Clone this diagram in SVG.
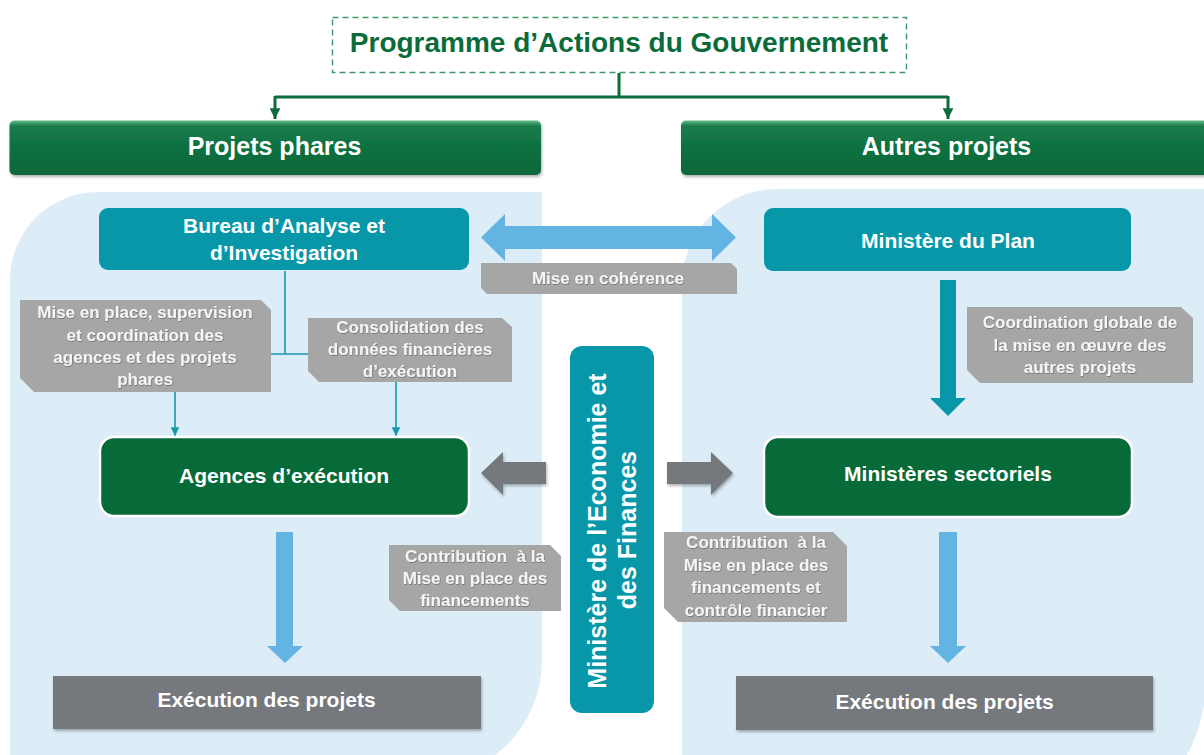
<svg xmlns="http://www.w3.org/2000/svg" width="1204" height="755" viewBox="0 0 1204 755">
  <defs>
    <linearGradient id="hdr" x1="0" y1="0" x2="0" y2="1">
      <stop offset="0" stop-color="#62bd8a"/>
      <stop offset="0.1" stop-color="#1a7d4c"/>
      <stop offset="0.5" stop-color="#0d7040"/>
      <stop offset="1" stop-color="#0a683a"/>
    </linearGradient>
    <filter id="sh" x="-10%" y="-20%" width="125%" height="150%">
      <feDropShadow dx="1" dy="2" stdDeviation="1.5" flood-color="#000" flood-opacity="0.3"/>
    </filter>
    <filter id="tsh" x="-5%" y="-20%" width="110%" height="150%">
      <feDropShadow dx="0.6" dy="0.8" stdDeviation="0.5" flood-color="#000" flood-opacity="0.35"/>
    </filter>
    <marker id="ag" viewBox="0 0 10 10" refX="10" refY="5" markerWidth="3.6" markerHeight="3.6" orient="auto" markerUnits="strokeWidth">
      <path d="M0,0 L10,5 L0,10 Z" fill="#0e6b3b"/>
    </marker>
    <marker id="at" viewBox="0 0 10 10" refX="10" refY="5" markerWidth="5.5" markerHeight="5.5" orient="auto" markerUnits="strokeWidth">
      <path d="M0,0 L10,5 L0,10 Z" fill="#1798ad"/>
    </marker>
  </defs>
  <style>
    text { font-family: "Liberation Sans", Arial, sans-serif; font-weight: bold; }
    .panel { fill: #ddedf8; }
    .hdr { fill: url(#hdr); filter: url(#sh); }
    .hdrt { fill: #ffffff; font-size: 25px; text-anchor: middle; }
    .teal { fill: #0797a8; }
    .dg { fill: #076b39; stroke: #ffffff; stroke-width: 2.5; }
    .ex { fill: #75787b; filter: url(#sh); }
    .nt { fill: #ffffff; font-size: 21px; text-anchor: middle; }
    .lbl { fill: #a6a6a6; }
    .lt { fill: #f5f5f5; font-size: 17px; text-anchor: middle; filter: url(#tsh); }
    .gc { fill: none; stroke: #0e6b3b; stroke-width: 3; }
    .tc { fill: none; stroke: #1798ad; stroke-width: 1.6; }
    .ba { fill: #63b3e3; }
    .ga { fill: #75787b; filter: url(#sh); }
  </style>

  <rect width="1204" height="755" fill="#ffffff"/>

  <g id="panels">
    <path class="panel" d="M10,280 A88,88 0 0 1 98,192 L542,192 L542,660 A120,120 0 0 1 422,780 L10,780 Z"/>
    <path class="panel" d="M682,284 A95,95 0 0 1 777,189 L1206,189 L1206,680 A157,157 0 0 1 1049,837 L682,837 Z"/>
  </g>

  <g id="title">
    <rect x="332.5" y="17.5" width="574" height="55" fill="#ffffff" stroke="#3d9a68" stroke-width="1.4" stroke-dasharray="6,4"/>
    <text x="619" y="52" fill="#0b6b3a" font-size="28" text-anchor="middle">Programme d’Actions du Gouvernement</text>
  </g>

  <g id="connectors">
    <path class="gc" d="M619,73 V97 M275,97 H948"/>
    <path class="gc" d="M275,96 V119" marker-end="url(#ag)"/>
    <path class="gc" d="M948,96 V119" marker-end="url(#ag)"/>
    <path class="tc" d="M285,271 V354 M175,354 H396"/>
    <path class="tc" d="M175,353 V436" marker-end="url(#at)"/>
    <path class="tc" d="M396,353 V436" marker-end="url(#at)"/>
    <polygon class="ba" points="481,237.5 505,214 505,226 712,226 712,214 736,237.5 712,261 712,249 505,249 505,261"/>
    <polygon class="teal" points="940,280 956,280 956,398 966,398 948,416 930,398 940,398"/>
    <polygon class="ba" points="276,532 293,532 293,646 303,646 285,663 267,646 276,646"/>
    <polygon class="ba" points="939,532 957,532 957,646 966,646 948,663 930,646 939,646"/>
    <polygon class="ga" points="481,473 503,452 503,462 546,462 546,484 503,484 503,495"/>
    <polygon class="ga" points="733,473 711,452 711,462 667,462 667,484 711,484 711,495"/>
  </g>

  <g id="hdr-left">
    <rect class="hdr" x="9.5" y="120.5" width="531.5" height="54.5" rx="5"/>
    <text class="hdrt" x="274.5" y="155">Projets phares</text>
  </g>
  <g id="hdr-right">
    <rect class="hdr" x="681" y="120.5" width="540" height="54.5" rx="5"/>
    <text class="hdrt" x="946.5" y="155">Autres projets</text>
  </g>

  <g id="bureau">
    <rect class="teal" x="99" y="208" width="370" height="62" rx="9"/>
    <text class="nt" x="284" y="233">Bureau d’Analyse et</text>
    <text class="nt" x="284" y="260">d’Investigation</text>
  </g>

  <g id="plan">
    <rect class="teal" x="764" y="208" width="367" height="63" rx="9"/>
    <text class="nt" x="948" y="248">Ministère du Plan</text>
  </g>

  <g id="lbl-coherence">
    <polygon class="lbl" points="481,263 731,263 737,269 737,294 487,294 481,288"/>
    <text class="lt" x="608" y="284">Mise en cohérence</text>
  </g>

  <g id="lbl-supervision">
    <polygon class="lbl" points="20,300 261,300 271,310 271,392 34,392 20,378"/>
    <text class="lt" x="145" y="318">Mise en place, supervision</text>
    <text class="lt" x="145" y="341">et coordination des</text>
    <text class="lt" x="145" y="363">agences et des projets</text>
    <text class="lt" x="145" y="385">phares</text>
  </g>

  <g id="lbl-consolidation">
    <polygon class="lbl" points="308,318 502,318 512,327 512,382 319,382 308,371"/>
    <text class="lt" x="410" y="333">Consolidation des</text>
    <text class="lt" x="410" y="355">données financières</text>
    <text class="lt" x="410" y="377">d’exécution</text>
  </g>

  <g id="lbl-coordination">
    <polygon class="lbl" points="967,307 1181,307 1193,318 1193,383 980,383 967,370"/>
    <text class="lt" x="1080" y="328">Coordination globale de</text>
    <text class="lt" x="1080" y="351">la mise en œuvre des</text>
    <text class="lt" x="1080" y="373">autres projets</text>
  </g>

  <g id="agences">
    <rect class="dg" x="100" y="437" width="369" height="79" rx="14"/>
    <text class="nt" x="284" y="483">Agences d’exécution</text>
  </g>

  <g id="sectoriels">
    <rect class="dg" x="764" y="437" width="368" height="80" rx="14"/>
    <text class="nt" x="948" y="481">Ministères sectoriels</text>
  </g>

  <g id="mef">
    <rect class="teal" x="570" y="346" width="84" height="367" rx="12"/>
    <text fill="#ffffff" font-size="25" text-anchor="middle" transform="translate(606,531) rotate(-90)">Ministère de l’Economie et</text>
    <text fill="#ffffff" font-size="25" text-anchor="middle" transform="translate(636,530) rotate(-90)">des Finances</text>
  </g>

  <g id="lbl-contrib-left">
    <polygon class="lbl" points="389,545 550,545 561,556 561,611 400,611 389,600"/>
    <text class="lt" x="475" y="562">Contribution&#160; à la</text>
    <text class="lt" x="475" y="584">Mise en place des</text>
    <text class="lt" x="475" y="606">financements</text>
  </g>

  <g id="lbl-contrib-right">
    <polygon class="lbl" points="664,532 833,532 847,546 847,622 678,622 664,608"/>
    <text class="lt" x="756" y="548">Contribution&#160; à la</text>
    <text class="lt" x="756" y="571">Mise en place des</text>
    <text class="lt" x="756" y="593">financements et</text>
    <text class="lt" x="756" y="616">contrôle financier</text>
  </g>

  <g id="exec-left">
    <rect class="ex" x="53" y="676" width="428" height="53"/>
    <text class="nt" x="266.5" y="707">Exécution des projets</text>
  </g>

  <g id="exec-right">
    <rect class="ex" x="736" y="676" width="417" height="54"/>
    <text class="nt" x="944.5" y="709">Exécution des projets</text>
  </g>
</svg>
